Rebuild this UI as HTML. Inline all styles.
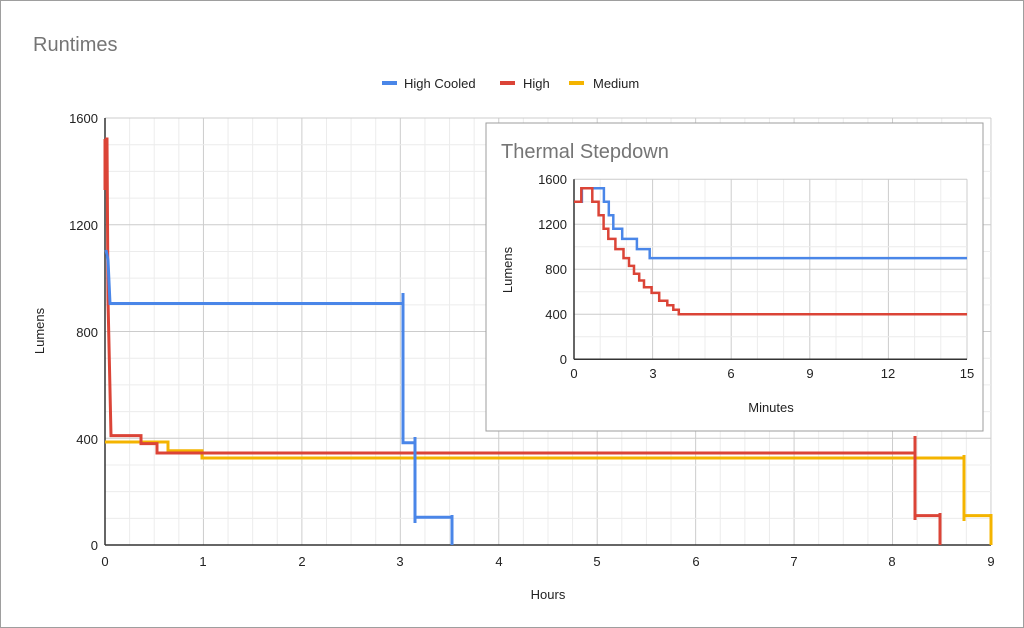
<!DOCTYPE html>
<html><head><meta charset="utf-8"><style>
html,body{margin:0;padding:0;background:#fff}
svg{display:block;font-family:"Liberation Sans",Arial,sans-serif}
</style></head><body>
<svg width="1024" height="628" viewBox="0 0 1024 628" xmlns="http://www.w3.org/2000/svg">
<rect x="0.5" y="0.5" width="1023" height="627" fill="#fff" stroke="#9e9e9e"/>
<text x="33" y="51" font-size="20" fill="#757575">Runtimes</text>
<g font-size="13" fill="#222">
<rect x="382" y="81" width="15" height="4" fill="#4a86e8"/><text x="404" y="88">High Cooled</text>
<rect x="500" y="81" width="15" height="4" fill="#db4437"/><text x="523" y="88">High</text>
<rect x="569" y="81" width="15" height="4" fill="#f4b400"/><text x="593" y="88">Medium</text>
</g>
<g id="maingrid"></g>
<g id="insetgrid"></g>
<g font-size="13" fill="#222" text-anchor="end">
<text x="98" y="123">1600</text><text x="98" y="230">1200</text><text x="98" y="337">800</text><text x="98" y="444">400</text><text x="98" y="550">0</text>
</g>
<g font-size="13" fill="#222" text-anchor="middle">
<text x="105" y="566">0</text><text x="203" y="566">1</text><text x="302" y="566">2</text><text x="400" y="566">3</text><text x="499" y="566">4</text><text x="597" y="566">5</text><text x="696" y="566">6</text><text x="794" y="566">7</text><text x="892" y="566">8</text><text x="991" y="566">9</text>
<text x="548" y="599">Hours</text>
<text transform="translate(44,331) rotate(-90)">Lumens</text>
</g>
<g fill="none" stroke-width="3" stroke-linejoin="miter">
<path d="M105,442 H168 V450.8 H202 V458 H964 V515.6 H991 V545" stroke="#f4b400"/>
<path d="M964,455 V521 M991,514 V545" stroke="#f4b400"/>
<path d="M105,139 L107,139 L108,300 L111,435.6 H141 V443.6 H157 V453 H915 V515.6 H940 V545" stroke="#db4437"/>
<path d="M105,139 V190 M915,436 V520 M940,513 V545" stroke="#db4437"/>
<path d="M106,250 L108,260 L110,303.5 H403 V442.8 H415 V517.2 H452 V545" stroke="#4a86e8"/>
<path d="M403,293 V310 M415,437 V523 M452,515 V545" stroke="#4a86e8"/>
</g>
<rect x="486" y="123" width="497" height="308" fill="#fff" stroke="#9e9e9e"/>
<text x="501" y="158" font-size="20" fill="#757575">Thermal Stepdown</text>
<g id="insetgrid2"></g>
<g font-size="13" fill="#222" text-anchor="end">
<text x="567" y="184">1600</text><text x="567" y="229">1200</text><text x="567" y="274">800</text><text x="567" y="319">400</text><text x="567" y="364">0</text>
</g>
<g font-size="13" fill="#222" text-anchor="middle">
<text x="574" y="378">0</text><text x="653" y="378">3</text><text x="731" y="378">6</text><text x="810" y="378">9</text><text x="888" y="378">12</text><text x="967" y="378">15</text>
<text x="771" y="412">Minutes</text>
<text transform="translate(512,270) rotate(-90)">Lumens</text>
</g>
<g fill="none" stroke-width="2.5">
<path d="M574,201.8 H581.9 V188.3 H603.9 V201.8 H608.8 V215.3 H613.3 V228.8 H622.2 V238.9 H636.9 V249.1 H649.7 V258.1 H967" stroke="#4a86e8"/>
<path d="M574,201.8 H581.3 V188.3 H592.3 V201.8 H598.6 V215.3 H603.6 V228.8 H608.3 V238.9 H615.4 V249.1 H623.5 V258.1 H629 V265.9 H634 V273.8 H639.2 V280.5 H644 V287.3 H651.6 V292.9 H659.2 V300.8 H667.3 V305.3 H673.3 V309.8 H678.8 V314.3 H967" stroke="#db4437"/>
</g>
<script>
(function(){
var ns="http://www.w3.org/2000/svg";
function line(g,x1,y1,x2,y2,c,w){var l=document.createElementNS(ns,"line");l.setAttribute("x1",x1);l.setAttribute("y1",y1);l.setAttribute("x2",x2);l.setAttribute("y2",y2);l.setAttribute("stroke",c);l.setAttribute("stroke-width",w);g.appendChild(l);}
var g=document.getElementById("maingrid");
for(var i=0;i<=36;i++){var x=105+i*98.44/4;line(g,x,118,x,545,i%4?"#ececec":"#cccccc",1);}
for(var j=0;j<=16;j++){var y=118+j*26.6875;line(g,105,y,991,y,j%4?"#ececec":"#cccccc",1);}
line(g,105,118,105,545,"#333",1.5);line(g,105,545,991,545,"#333",1.5);
var h=document.getElementById("insetgrid2");
for(var i=0;i<=15;i++){var x=574+i*26.2;line(h,x,179.3,x,359.3,i%3?"#ececec":"#cccccc",1);}
for(var j=0;j<=8;j++){var y=179.3+j*22.5;line(h,574,y,967,y,j%2?"#ececec":"#cccccc",1);}
line(h,574,179.3,574,359.3,"#333",1.5);line(h,574,359.3,967,359.3,"#333",1.5);
})();
</script>
</svg>
</body></html>
